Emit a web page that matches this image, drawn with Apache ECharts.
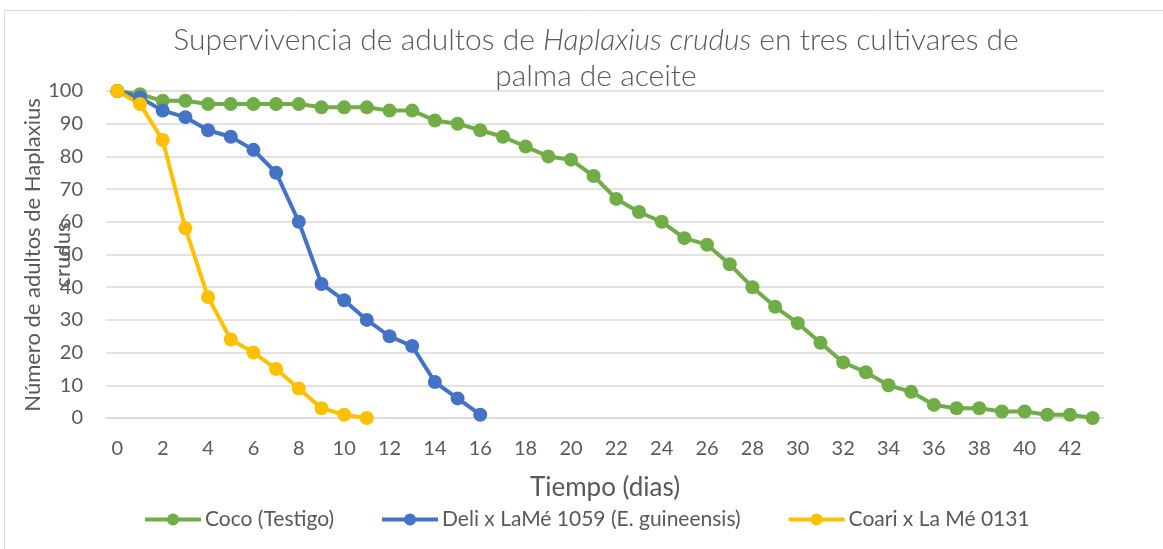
<!DOCTYPE html>
<html>
<head>
<meta charset="utf-8">
<script src="https://cdn.jsdelivr.net/npm/echarts@6/dist/echarts.min.js"></script>
<style>
  html, body { margin: 0; padding: 0; background: #fff; }
  #chart { width: 1163px; height: 549px; }
</style>
</head>
<body>
<div id="chart"></div>
<script>
// días 0..43
var dias = [];
for (var d = 0; d <= 43; d++) dias.push(String(d));

// Coco (Testigo)
var coco = [100, 99, 97, 97, 96, 96, 96, 96, 96, 95, 95, 95, 94, 94, 91, 90, 88, 86, 83, 80,
            79, 74, 67, 63, 60, 55, 53, 47, 40, 34, 29, 23, 17, 14, 10, 8, 4, 3, 3, 2, 2, 1, 1, 0];
// Deli x LaMé 1059 (E. guineensis)
var deli = [100, 98, 94, 92, 88, 86, 82, 75, 60, 41, 36, 30, 25, 22, 11, 6, 1];
// Coari x La Mé 0131
var coari = [100, 96, 85, 58, 37, 24, 20, 15, 9, 3, 1, 0];

var nombres = ['Coco (Testigo)', 'Deli x LaMé 1059 (E. guineensis)', 'Coari x La Mé 0131'];
var colores = ['#70ad47', '#4472c4', '#ffc000'];

var gris = '#595959';
var fuente = 'Lato, "Open Sans", sans-serif';

function serie (nombre, datos, color) {
    return {
        name: nombre,
        type: 'line',
        data: datos,
        symbol: 'circle',
        symbolSize: 14,
        lineStyle: { width: 4, color: color },
        itemStyle: { color: color },
        animation: false
    };
}

var myChart = echarts.init(document.getElementById('chart'));
var option = {
    backgroundColor: '#fff',
    textStyle: { fontFamily: fuente },
    graphic: [
        {
            type: 'rect',
            shape: { x: 4.5, y: 10.5, width: 1170, height: 550 },
            style: { fill: 'none', stroke: '#d9d9d9', lineWidth: 1 },
            silent: true
        },
        // título (con nombre científico en cursiva)
        {
            type: 'text',
            x: 596,
            y: 58,
            style: {
                text: 'Supervivencia de adultos de {i|Haplaxius crudus} en tres cultivares de\npalma de aceite',
                fill: gris,
                font: '300 30px ' + fuente,
                align: 'center',
                verticalAlign: 'middle',
                lineHeight: 36,
                rich: {
                    i: { fontFamily: fuente, fontSize: 30, fontWeight: 300, fontStyle: 'italic', fill: gris, lineHeight: 36 }
                }
            },
            silent: true
        },
        {
            type: 'text',
            x: 48,
            y: 255,
            rotation: Math.PI / 2,
            style: {
                text: 'Número de adultos de Haplaxius\ncrudus',
                fill: gris,
                font: '22px ' + fuente,
                align: 'center',
                verticalAlign: 'middle',
                lineHeight: 30
            },
            silent: true
        }
    ],
    legend: {
        data: nombres,
        left: 138,
        top: 504,
        itemWidth: 56,
        itemHeight: 15,
        itemGap: 46,
        lineStyle: { width: 4 },
        textStyle: { fontSize: 21, color: gris, fontFamily: fuente, padding: [0, 0, 0, -1] }
    },
    grid: { left: 106, right: 59, top: 91, bottom: 131 },
    xAxis: {
        type: 'category',
        data: dias,
        boundaryGap: true,
        name: 'Tiempo (dias)',
        nameLocation: 'middle',
        nameGap: 57,
        nameTextStyle: { fontSize: 26, color: gris, fontFamily: fuente },
        axisLine: { lineStyle: { color: '#d9d9d9', width: 1.5 } },
        axisTick: { show: false },
        axisLabel: { interval: 1, fontSize: 20, color: gris, margin: 21 }
    },
    yAxis: {
        type: 'value',
        min: 0,
        max: 100,
        interval: 10,
        axisLine: { show: false },
        axisTick: { show: false },
        axisLabel: { fontSize: 20, color: gris, margin: 23 },
        splitLine: { lineStyle: { color: '#d9d9d9', width: 1.5 } }
    },
    series: [
        serie(nombres[0], coco, colores[0]),
        serie(nombres[1], deli, colores[1]),
        serie(nombres[2], coari, colores[2])
    ]
};
myChart.setOption(option);
</script>
</body>
</html>
